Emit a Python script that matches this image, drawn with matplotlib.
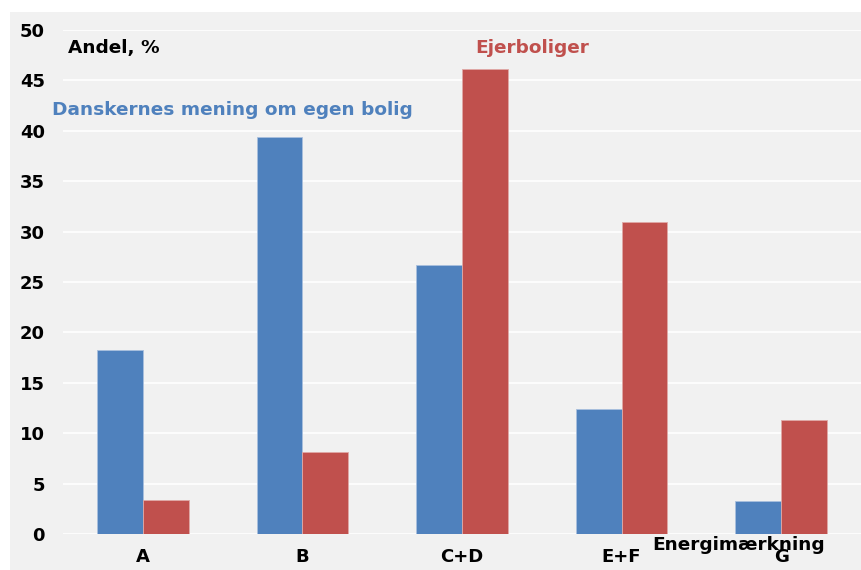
import numpy as np
import matplotlib.pyplot as plt
from matplotlib.patches import Rectangle

# Energimærkning categories and shares (%)
categories = ["A", "B", "C+D", "E+F", "G"]
danskernes = [18.3, 39.4, 26.7, 12.4, 3.3]
ejerboliger = [3.4, 8.1, 46.1, 31.0, 11.3]
yticks = [0, 5, 10, 15, 20, 25, 30, 35, 40, 45, 50]

blue = "#4F81BD"
red = "#C0504D"
plt.rcParams["font.family"] = "DejaVu Sans"

fig = plt.figure(figsize=(8.61, 5.70), dpi=100)
fig.patches.append(Rectangle((10 / 861, 0), 1, 1 - 12 / 570, transform=fig.transFigure,
                             facecolor="#F1F1F1", edgecolor="none", zorder=-10))
ax = fig.add_axes([63 / 861, 36 / 570, 1 - 63 / 861, (534 - 30) / 570])
ax.set_facecolor("#F1F1F1")

x = np.arange(len(categories))
w = 0.2875
ax.bar(x - w / 2, danskernes, w, color=blue, edgecolor="#A9C0DE", linewidth=0.6, zorder=3)
ax.bar(x + w / 2, ejerboliger, w, color=red, edgecolor="#E0A9A7", linewidth=0.6, zorder=3)

ax.set_xlim(-0.5, 4.5)
ax.set_ylim(0, 50)
ax.set_yticks(yticks)
ax.set_xticks(x)
ax.set_xticklabels(categories)
ax.grid(axis="y", color="white", linewidth=1.2, zorder=1)
ax.set_axisbelow(True)
for s in ax.spines.values():
    s.set_visible(False)
ax.tick_params(axis="both", length=0, labelsize=13)
ax.tick_params(axis="y", pad=13)
ax.tick_params(axis="x", pad=10)
for lbl in ax.get_xticklabels() + ax.get_yticklabels():
    lbl.set_fontweight("bold")

fs = 13.3
ax.text(-0.469, 48.2, "Andel, %", fontsize=fs, fontweight="bold", va="center", ha="left")
ax.text(-0.569, 42.1, "Danskernes mening om egen bolig", fontsize=fs, fontweight="bold",
        color=blue, va="center", ha="left", clip_on=False)
ax.text(2.08, 48.2, "Ejerboliger", fontsize=fs, fontweight="bold", color=red,
        va="center", ha="left")
ax.text(3.19, -1.1, "Energimærkning", fontsize=fs, fontweight="bold", va="center",
        ha="left", clip_on=False, zorder=5)

fig.savefig("out.png", dpi=100)
